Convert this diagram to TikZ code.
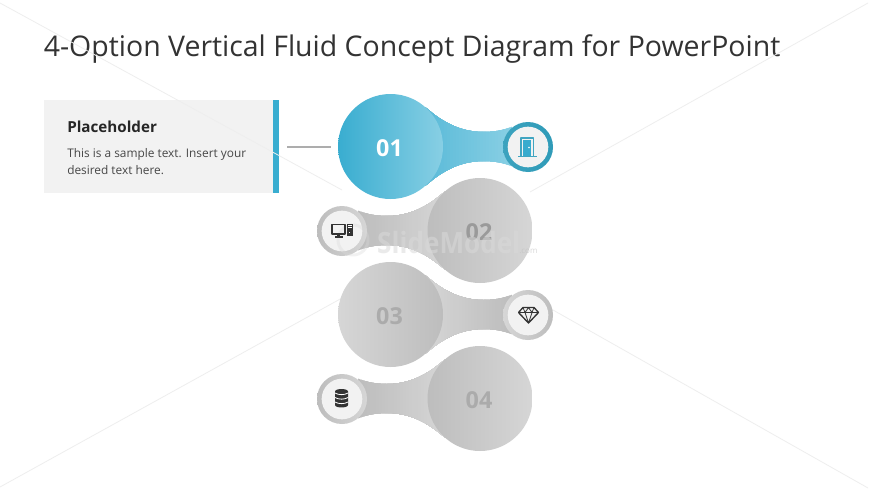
\documentclass[tikz,border=0pt]{standalone}
\usepackage{fontspec}
\setmainfont{Open Sans}
\definecolor{teal1}{HTML}{39ADD0}
\definecolor{teal2}{HTML}{88CFE4}
\definecolor{tealring}{HTML}{2F9BB8}
\definecolor{gr1}{HTML}{BDBDBD}
\definecolor{gr2}{HTML}{D6D6D6}
\definecolor{numgr}{HTML}{ABABAB}
\definecolor{faint}{HTML}{EEEEEE}
\definecolor{icon}{HTML}{333333}
\definecolor{panelgr}{HTML}{F2F2F2}
\definecolor{necknear}{HTML}{5ABAD8}
\tikzset{
  faintline/.style={draw=faint,line width=0.6pt},
  bignum/.style={font=\bfseries\fontsize{17.5}{20}\selectfont,inner sep=0pt,anchor=center},
  inner disc/.style={circle,fill=#1,minimum size=30.5pt,inner sep=0pt},
  ring disc/.style={circle,minimum size=37.5pt,inner sep=0pt},
  big disc/.style={circle,minimum size=78.75pt,inner sep=0pt},
  iconline/.style={draw=#1,line width=0.8pt,line join=round,fill=none},
}
% #1 colour at the big disc, #2 colour at the small disc, #3 big x, #4 y, #5 direction to the small disc
\newcommand{\blobneck}[5]{%
  \begin{scope}
  \clip (#3+#5*35,#4-39) .. controls (#3+#5*47,#4-29) and (#3+#5*65,#4-14.5) .. (#3+#5*93,#4-14.5)
  .. controls (#3+#5*103,#4-14.5) and (#3+#5*112,#4-16) .. (#3+#5*122,#4-20)
  -- (#3+#5*122,#4+20)
  .. controls (#3+#5*112,#4+16) and (#3+#5*103,#4+14.5) .. (#3+#5*93,#4+14.5)
  .. controls (#3+#5*65,#4+14.5) and (#3+#5*47,#4+29) .. (#3+#5*35,#4+39) -- cycle;
  \foreach \st in {0,...,29}{
    \pgfmathsetmacro{\mixv}{100-\st*100/29}
    \fill[#2!\mixv!#1] (#3+#5*122-#5*\st*3,#4-45) rectangle (#3+#5*30,#4+45);
  }
  \end{scope}
}
\begin{document}
\begin{tikzpicture}[x=0.75pt,y=-0.75pt]
\useasboundingbox (0,0) rectangle (870,489);
\fill[white] (0,0) rectangle (870,489);
% title
\node[anchor=base west,inner sep=0pt,text=black!80,font=\fontsize{21.35}{25}\selectfont] (title) at (43.5,56) {4-Option Vertical Fluid Concept Diagram for PowerPoint};
% panel
\node[fill=panelgr,minimum width=172.5pt,minimum height=69.75pt,inner sep=0pt,anchor=north west] (panel) at (44,100) {};
\node[fill=teal1,minimum width=4.5pt,minimum height=69.75pt,inner sep=0pt,anchor=north west] (bar) at (273,100) {};
% faint background lines
\coordinate (wa) at (0,3);
\coordinate (wb) at (342,190);
\coordinate (wc) at (0,487);
\coordinate (wd) at (342,298);
\coordinate (we) at (530,192);
\coordinate (wf) at (868,3);
\coordinate (wg) at (553,310);
\coordinate (wh) at (868,488);
\draw[faintline] (wa) -- (wb);
\draw[faintline] (wc) -- (wd);
\draw[faintline] (we) -- (wf);
\draw[faintline] (wg) -- (wh);
\node[anchor=base west,inner sep=0pt,text=black!85,font=\bfseries\fontsize{11.4}{13}\selectfont] (phead) at (67,132) {Placeholder};
\node[anchor=base west,inner sep=0pt,text=black!72,font=\fontsize{8.9}{10}\selectfont] (pl1) at (67,157) {This is a sample text. Insert your};
\node[anchor=base west,inner sep=0pt,text=black!72,font=\fontsize{8.9}{10}\selectfont] (pl2) at (67,174) {desired text here.};
\coordinate (ca) at (287,147);
\coordinate (cb) at (331,147);
\draw[draw=black!32,line width=0.9pt] (ca) -- (cb);
% blob 1
\blobneck{necknear}{teal2}{390.5}{146.5}{1}
\node[ring disc,left color=tealring!85!teal2,right color=tealring] (r1) at (528,147) {};
\node[inner disc=white!95!black] (i1) at (528,147) {};
\node[big disc,left color=teal1,right color=teal2] (b1) at (390.5,146.5) {};
\node[bignum,text=white] (n1) at (389.5,148) {01};
% blob 2
\blobneck{gr2}{gr1}{480}{230.5}{-1}
\node[ring disc,left color=gr1,right color=gr2] (r2) at (342,231) {};
\node[inner disc=white!95!black] (i2) at (342,231) {};
\node[big disc,left color=gr1,right color=gr2] (b2) at (480,230.5) {};
\node[bignum,text=numgr!90!black] (n2) at (479,232) {02};
% blob 3
\blobneck{gr2}{gr1}{390.5}{314.5}{1}
\node[ring disc,left color=gr2,right color=gr1] (r3) at (528,315) {};
\node[inner disc=white!95!black] (i3) at (528,315) {};
\node[big disc,left color=gr2,right color=gr1] (b3) at (390.5,314.5) {};
\node[bignum,text=numgr] (n3) at (389.5,316) {03};
% blob 4
\blobneck{gr2}{gr1}{480}{398.5}{-1}
\node[ring disc,left color=gr1,right color=gr2] (r4) at (342,399) {};
\node[inner disc=white!95!black] (i4) at (342,399) {};
\node[big disc,left color=gr1,right color=gr2] (b4) at (480,398.5) {};
\node[bignum,text=numgr] (n4) at (479,400) {04};
% watermark
\draw[draw=black!15,line width=2.2pt,opacity=0.35] (353,240) circle (15);
\node[anchor=base west,inner sep=0pt,text=black!15,opacity=0.55,xscale=0.89,font=\bfseries\fontsize{22}{24}\selectfont] (wm) at (377,253) {SlideModel};
\node[anchor=base west,inner sep=0pt,text=black!25,opacity=0.6,font=\fontsize{6}{7}\selectfont] (wm2) at (519,253) {.com};
% door icon
\begin{scope}[shift={(527.5,147)}]
  \draw[iconline=tealring!80!teal2] (-6.5,9.5) -- (-6.5,-9) -- (6,-9) -- (6,9.5);
  \fill[teal1!90!tealring] (-4.5,-6.8) -- (3.5,-6.8) -- (3.5,9) -- (-4.5,9) -- cycle;
  \fill[white] (1.5,0.5) circle (0.9);
  \draw[iconline=tealring!80!teal2] (-9.5,9.5) -- (9.5,9.5);
\end{scope}
% computer icon
\begin{scope}[shift={(342,230.5)}]
  \draw[iconline=icon,line width=1.1pt] (-10,-6) rectangle (3,3.5);
  \fill[icon] (-5,3.5) rectangle (-2,6);
  \fill[icon] (-7.5,5.8) rectangle (0.5,7);
  \fill[icon] (5,-6.5) rectangle (10.5,5.5);
  \fill[white] (6,-5.2) rectangle (9.5,-4.2);
  \fill[white] (6,-3.2) rectangle (9.5,-2.4);
  \fill[white] (7.2,1) rectangle (8.3,2.4);
\end{scope}
% diamond icon
\begin{scope}[shift={(528.5,314.5)}]
  \draw[iconline=icon,line width=1pt] (-5.5,-7) -- (5.5,-7) -- (10,-2) -- (0,8.5) -- (-10,-2) -- cycle;
  \draw[iconline=icon,line width=0.6pt] (-10,-2) -- (10,-2);
  \draw[iconline=icon,line width=0.6pt] (-5.5,-7) -- (-3.5,-2) -- (0,8.5) -- (3.5,-2) -- (5.5,-7);
  \draw[iconline=icon,line width=0.6pt] (-3.5,-2) -- (0,-7) -- (3.5,-2);
\end{scope}
% database icon
\begin{scope}[shift={(341.5,398.5)}]
  \fill[icon] (-6.5,-7) .. controls (-6.5,-10.3) and (6.5,-10.3) .. (6.5,-7) -- (6.5,6.5) .. controls (6.5,9.8) and (-6.5,9.8) .. (-6.5,6.5) -- cycle;
  \foreach \yy in {-5.5,-1,3.5}{
    \draw[white,line width=0.6pt] (-6.5,\yy) .. controls (-3,\yy+2.2) and (3,\yy+2.2) .. (6.5,\yy);
  }
\end{scope}
\end{tikzpicture}
\end{document}
